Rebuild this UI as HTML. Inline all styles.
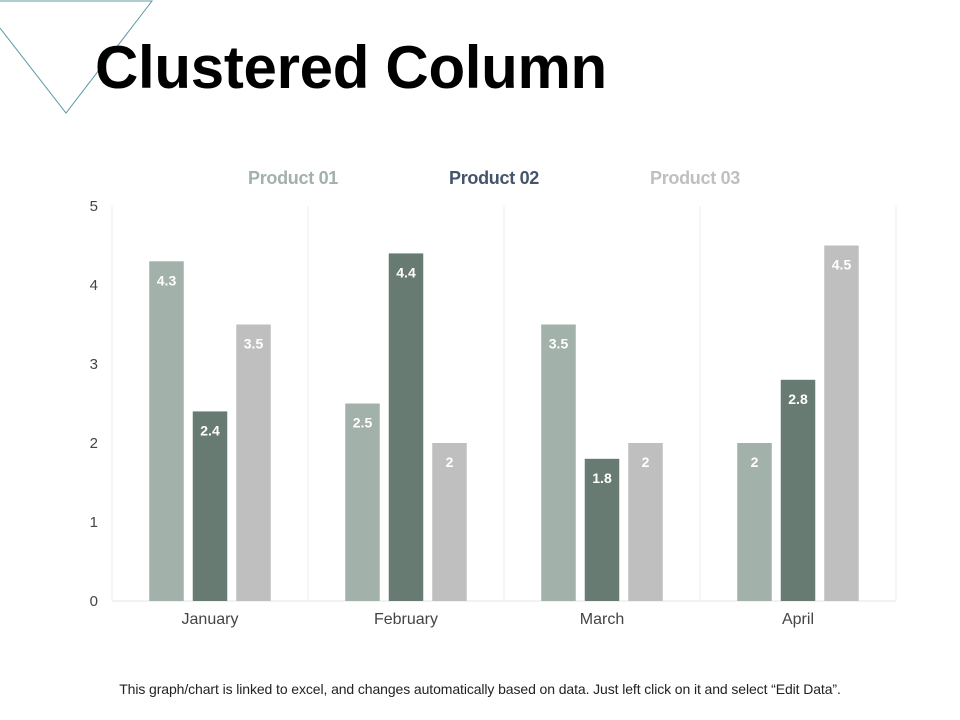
<!DOCTYPE html>
<html><head><meta charset="utf-8"><style>
body{margin:0;width:960px;height:720px;background:#fff;overflow:hidden;font-family:"Liberation Sans",sans-serif;position:relative}
#title{position:absolute;left:95px;top:33px;font-size:60px;font-weight:bold;color:#000;margin:0;letter-spacing:-0.3px;white-space:nowrap}
#foot{position:absolute;left:0;width:960px;top:681px;text-align:center;font-size:14px;color:#222;letter-spacing:-0.1px}
</style></head><body>
<svg width="170" height="120" style="position:absolute;left:0;top:0"><polyline points="0,1 152,1 66,113 0,28" fill="none" stroke="#5d9aa5" stroke-width="1"/></svg>
<h1 id="title">Clustered Column</h1>
<svg id="chart" width="960" height="660" style="position:absolute;left:0;top:0"></svg>
<div id="foot">This graph/chart is linked to excel, and changes automatically based on data. Just left click on it and select “Edit Data”.</div>
<script>
const categories=["January","February","March","April"];
const seriesNames=["Product 01","Product 02","Product 03"];
const product01=[4.3,2.5,3.5,2];
const product02=[2.4,4.4,1.8,2.8];
const product03=[3.5,2,2,4.5];
const yTicks=[0,1,2,3,4,5];
const series=[product01,product02,product03];
const colors=["#a2b1aa","#687b73","#bfbfbf"];
const legendColors=["#a2b1aa","#44546a","#bfbfbf"];
const svg=document.getElementById('chart');
const NS="http://www.w3.org/2000/svg";
const x0=112,x1=896,y0=601,y1=206,yMax=5;
const bw=(x1-x0)/categories.length;
const y=v=>y0-(v/yMax)*(y0-y1);
const xc=i=>x0+bw*(i+0.5);
function mk(t,a,txt){const e=document.createElementNS(NS,t);for(const k in a)e.setAttribute(k,a[k]);if(txt!==undefined)e.textContent=txt;svg.appendChild(e);return e;}
for(let i=0;i<=categories.length;i++){const g=mk('line',{x1:x0+bw*i,x2:x0+bw*i,y1:y1,y2:y0,stroke:'#ececec'});

}
const ax=mk('line',{x1:x0,x2:x1,y1:y0,y2:y0,stroke:'#e4e4e4'});


yTicks.forEach(t=>{const e=mk('text',{x:98,y:y(t)+5,'text-anchor':'end','font-size':15,fill:'#444'},t);

});
const barW=34.5,step=43.5;
categories.forEach((c,i)=>{
 const e=mk('text',{x:xc(i),y:624,'text-anchor':'middle','font-size':16,fill:'#444'},c);
 
 
 series.forEach((s,j)=>{
  const cx=xc(i)+(j-1)*step;
  const r=mk('rect',{x:cx-barW/2,y:y(s[i]),width:barW,height:y0-y(s[i]),fill:colors[j]});
  
  
  const l=mk('text',{x:cx,y:y(s[i])+24,'text-anchor':'middle','font-size':14,'font-weight':'bold',fill:'#fff'},s[i]);
  
  
 });
});
const lx=[293,494,695];
seriesNames.forEach((n,j)=>{const e=mk('text',{x:lx[j],y:184,'text-anchor':'middle','font-size':18,'font-weight':'bold',fill:legendColors[j],'letter-spacing':'-0.3'},n);

});
</script>
</body></html>
